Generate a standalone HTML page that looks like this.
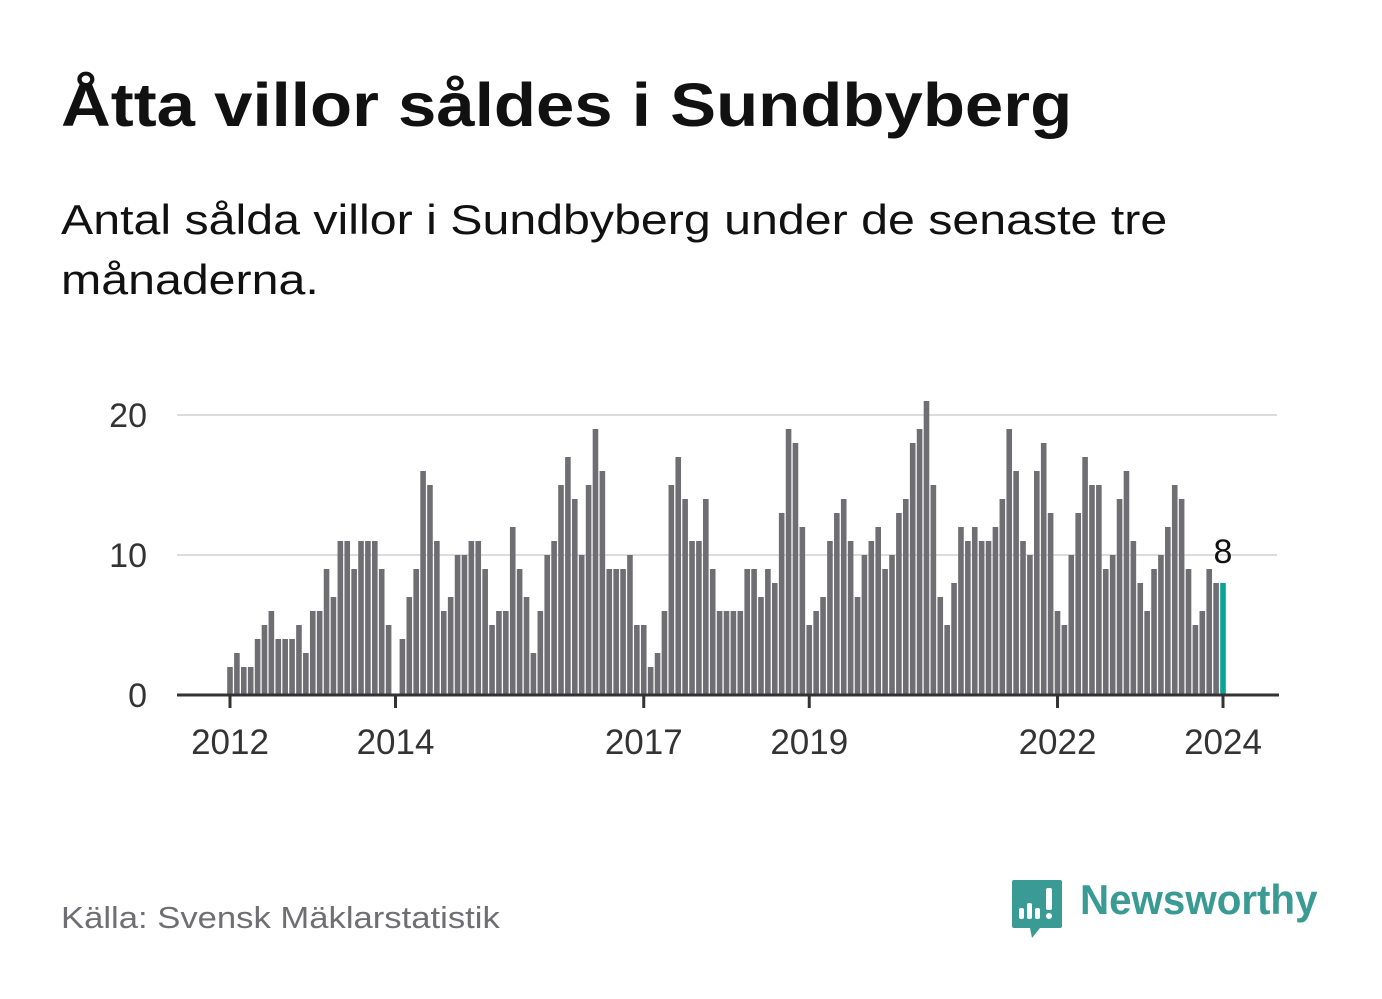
<!DOCTYPE html>
<html><head><meta charset="utf-8">
<style>
body{margin:0;background:#fff;width:1382px;height:999px;overflow:hidden;font-family:"Liberation Sans",sans-serif;}
.t{position:absolute;left:61px;top:70px;font-size:61px;font-weight:bold;color:#111;transform:scaleX(1.13);transform-origin:0 0;white-space:nowrap;}
.s{position:absolute;left:61px;top:190px;font-size:42px;color:#111;line-height:60px;width:1200px;transform:scaleX(1.15);transform-origin:0 0;white-space:nowrap;}
.src{position:absolute;left:61px;top:900px;font-size:31px;color:#6f6e73;transform:scaleX(1.117);transform-origin:0 0;white-space:nowrap;}
.logo{position:absolute;left:1080px;top:876px;font-size:42px;font-weight:bold;color:#3a9a94;transform:scaleX(0.96);transform-origin:0 0;white-space:nowrap;}
</style></head><body>
<div class="t">Åtta villor såldes i Sundbyberg</div>
<div class="s">Antal sålda villor i Sundbyberg under de senaste tre<br>månaderna.</div>
<svg id="chart" width="1382" height="999" style="position:absolute;left:0;top:0"></svg>
<div class="src">Källa: Svensk Mäklarstatistik</div>
<svg style="position:absolute;left:1010px;top:878px" width="54" height="62">
<path d="M4 2h46a2 2 0 0 1 2 2v44a2 2 0 0 1-2 2H30l-8 10-2-10H4a2 2 0 0 1-2-2V4a2 2 0 0 1 2-2z" fill="#3a9a94"/>
<rect x="9" y="30" width="5" height="11" rx="2" fill="#fff"/><rect x="17" y="25" width="5" height="16" rx="2" fill="#fff"/><rect x="25" y="30" width="5" height="11" rx="2" fill="#fff"/><rect x="36" y="10" width="6" height="22" rx="2" fill="#fff"/><circle cx="39" cy="38" r="3" fill="#fff"/>
</svg>
<div class="logo">Newsworthy</div>
<script>
const values=[2,3,2,2,4,5,6,4,4,4,5,3,6,6,9,7,11,11,9,11,11,11,9,5,
0,4,7,9,16,15,11,6,7,10,10,11,11,9,5,6,6,12,9,7,3,6,10,11,
15,17,14,10,15,19,16,9,9,9,10,5,5,2,3,6,15,17,14,11,11,14,9,6,
6,6,6,9,9,7,9,8,13,19,18,12,5,6,7,11,13,14,11,7,10,11,12,9,
10,13,14,18,19,21,15,7,5,8,12,11,12,11,11,12,14,19,16,11,10,16,18,13,
6,5,10,13,17,15,15,9,10,14,16,11,8,6,9,10,12,15,14,9,5,6,9,8,8];
const yTicks=[0,10,20];
const yearLabels=["2012","2014","2017","2019","2022","2024"];
const yearIndex=[0,24,60,84,120,144];
const NS="http://www.w3.org/2000/svg",svg=document.getElementById('chart');
const x=i=>230+i*(1223-230)/144, y=v=>695-v*14;
function mk(t,a){const e=document.createElementNS(NS,t);for(const k in a)e.setAttribute(k,a[k]);svg.appendChild(e);return e;}
yTicks.forEach(v=>{
 if(v>0){const g=mk('line',{x1:177,x2:1277,y1:y(v),y2:y(v),stroke:'#dcdcdc','stroke-width':2});
 
 }
 const t=mk('text',{x:147,y:y(v)+12,'text-anchor':'end','font-size':34,fill:'#333','font-family':'Liberation Sans'});t.textContent=v;
 
 
});
values.forEach((v,i)=>{
 const last=i===values.length-1;
 const r=mk('rect',{x:x(i)-2.8,y:y(v),width:5.6,height:v*14,fill:last?'#0aa396':'#6f6e73'});
 
 
});
const lab=mk('text',{x:x(values.length-1),y:y(values[values.length-1])-20,'text-anchor':'middle','font-size':34,fill:'#111','font-family':'Liberation Sans'});
lab.textContent=values[values.length-1];


const b=mk('line',{x1:177,x2:1279,y1:695,y2:695,stroke:'#333','stroke-width':3});


yearIndex.forEach((idx,k)=>{
 const tk=mk('line',{x1:x(idx),x2:x(idx),y1:695,y2:708,stroke:'#333','stroke-width':3});
 
 
 const t=mk('text',{x:x(idx),y:754,'text-anchor':'middle','font-size':35,fill:'#333','font-family':'Liberation Sans'});t.textContent=yearLabels[k];
 
 
});
</script>
</body></html>
